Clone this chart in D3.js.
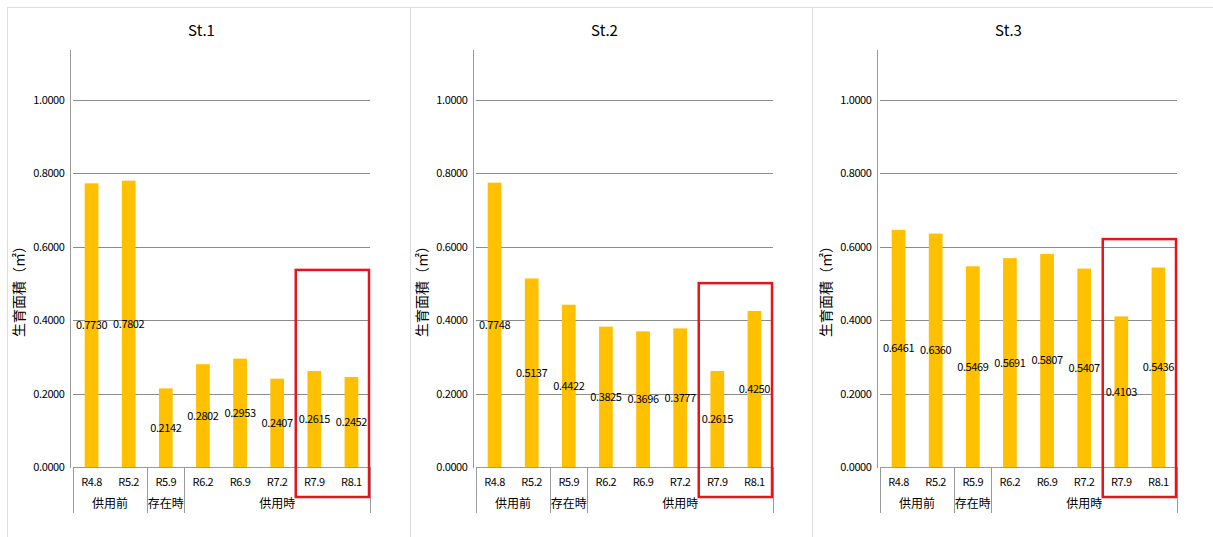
<!DOCTYPE html>
<html>
<head>
<meta charset="utf-8">
<script src="https://cdn.jsdelivr.net/npm/d3@7"></script>
<style>
  html, body { margin: 0; padding: 0; background: #fff; }
  svg { display: block; }
  text { font-family: "Noto Sans CJK JP", "Noto Sans", sans-serif; fill: #000; }
</style>
</head>
<body>
<svg id="chart" width="1213" height="537"></svg>
<script>
// Survey dates (category axis, inner level)
const categories = ["R4.8", "R5.2", "R5.9", "R6.2", "R6.9", "R7.2", "R7.9", "R8.1"];
// Outer level of the category axis: label and how many dates it spans
const groupLabels = ["供用前", "存在時", "供用時"];
const groupSizes = [2, 1, 5];

// Station titles
const stations = ["St.1", "St.2", "St.3"];

// Growth area (m²) per station, one value per survey date
const st1Values = [0.7730, 0.7802, 0.2142, 0.2802, 0.2953, 0.2407, 0.2615, 0.2452];
const st2Values = [0.7748, 0.5137, 0.4422, 0.3825, 0.3696, 0.3777, 0.2615, 0.4250];
const st3Values = [0.6461, 0.6360, 0.5469, 0.5691, 0.5807, 0.5407, 0.4103, 0.5436];

// Value-axis ticks
const yTicks = [0, 0.2, 0.4, 0.6, 0.8, 1.0];

// Highlight frame around the latest two surveys: upper edge in axis units
const highlightCats = ["R7.9", "R8.1"];
const highlightTop = [0.537, 0.501, 0.621];

const yTitle = "生育面積（㎡）";

const seriesByStation = [st1Values, st2Values, st3Values];

const svg = d3.select("#chart");
const panelOffsets = [0, 403, 807];
const plotLeft = 73, plotWidth = 297;
const yZero = 467, yOne = 100;
const yMax = (yZero - 50) / (yZero - yOne);

const y = d3.scaleLinear().domain([0, 1]).range([yZero, yOne]);
const fmt = d3.format(".4f");

// Outer panel frame lines
svg.append("line").attr("x1", 7).attr("x2", 1213).attr("y1", 7.5).attr("y2", 7.5)
  .attr("stroke", "#dcdcdc").attr("stroke-width", 1);
[7.5, 410.5, 812.5].forEach(px => {
  svg.append("line").attr("x1", px).attr("x2", px).attr("y1", 7).attr("y2", 537)
    .attr("stroke", "#dcdcdc").attr("stroke-width", 1);
});

stations.forEach((name, si) => {
  const ox = panelOffsets[si];
  const g = svg.append("g").attr("transform", `translate(${ox},0)`);
  const values = seriesByStation[si];

  const x = d3.scaleBand().domain(categories)
    .range([plotLeft, plotLeft + plotWidth]).paddingInner(0.63).paddingOuter(0.315);
  const band = d3.scaleBand().domain(categories)
    .range([plotLeft, plotLeft + plotWidth]);

  // Title
  g.append("text").attr("x", 201.5).attr("y", 36)
    .attr("text-anchor", "middle").attr("font-size", 15).text(name);

  // Gridlines
  g.append("g").selectAll("line").data(yTicks.filter(d => d > 0)).join("line")
    .attr("x1", plotLeft).attr("x2", plotLeft + plotWidth)
    .attr("y1", d => Math.round(y(d)) + 0.5).attr("y2", d => Math.round(y(d)) + 0.5)
    .attr("stroke", "#8c8c8c").attr("stroke-width", 1);

  // Value axis
  const yAxis = d3.axisLeft(y).tickValues(yTicks).tickFormat(fmt).tickSize(0).tickPadding(6);
  const ya = g.append("g").attr("transform", `translate(${plotLeft - 2.5},0)`).call(yAxis);
  ya.select(".domain").remove();
  ya.selectAll("text").attr("font-size", 11).attr("font-family", "'Noto Sans CJK JP', sans-serif")
    .attr("letter-spacing", "-0.4").attr("fill", "#000");
  g.append("line").attr("x1", plotLeft - 2.5).attr("x2", plotLeft - 2.5)
    .attr("y1", y(yMax)).attr("y2", yZero + 1).attr("stroke", "#9a9a9a");

  // Axis title
  g.append("text").attr("transform", `translate(24,288) rotate(-90)`)
    .attr("text-anchor", "middle").attr("font-size", 14).text(yTitle);

  // Bars
  g.append("g").selectAll("rect").data(values).join("rect")
    .attr("x", (d, i) => x(categories[i]))
    .attr("width", x.bandwidth())
    .attr("y", d => y(d))
    .attr("height", d => y(0) - y(d))
    .attr("fill", "#FFC000");

  // Value labels, centred inside each bar
  g.append("g").selectAll("text").data(values).join("text")
    .attr("x", (d, i) => x(categories[i]) + x.bandwidth() / 2)
    .attr("y", d => (y(d) + y(0)) / 2 + 4)
    .attr("text-anchor", "middle").attr("font-size", 11).attr("letter-spacing", "-0.4")
    .text(d => fmt(d));

  // Category axis line
  g.append("line").attr("x1", plotLeft).attr("x2", plotLeft + plotWidth)
    .attr("y1", yZero + 0.5).attr("y2", yZero + 0.5).attr("stroke", "#9a9a9a");

  // Inner category labels
  g.append("g").selectAll("text").data(categories).join("text")
    .attr("x", d => band(d) + band.bandwidth() / 2).attr("y", 486)
    .attr("text-anchor", "middle").attr("font-size", 11).attr("letter-spacing", "-0.4")
    .text(d => d);

  // Outer groups with separators
  let start = 0;
  const bounds = [0];
  groupSizes.forEach((n, gi) => {
    const x0 = band(categories[start]);
    const x1 = band(categories[start + n - 1]) + band.bandwidth();
    g.append("text").attr("x", (x0 + x1) / 2).attr("y", 508)
      .attr("text-anchor", "middle").attr("font-size", 12).text(groupLabels[gi]);
    start += n;
    bounds.push(start);
  });
  g.append("g").selectAll("line").data(bounds).join("line")
    .attr("x1", b => Math.round(b < categories.length ? band(categories[b]) : plotLeft + plotWidth) + 0.5)
    .attr("x2", b => Math.round(b < categories.length ? band(categories[b]) : plotLeft + plotWidth) + 0.5)
    .attr("y1", yZero).attr("y2", 513).attr("stroke", "#9a9a9a");

  // Highlight frame
  const hx0 = band(highlightCats[0]);
  const hx1 = band(highlightCats[highlightCats.length - 1]) + band.bandwidth();
  g.append("rect")
    .attr("x", hx0).attr("y", y(highlightTop[si]))
    .attr("width", hx1 - hx0 - 1).attr("height", (yZero + 30) - y(highlightTop[si]))
    .attr("fill", "none").attr("stroke", "#e8141c").attr("stroke-width", 2.5);
});
</script>
</body>
</html>
